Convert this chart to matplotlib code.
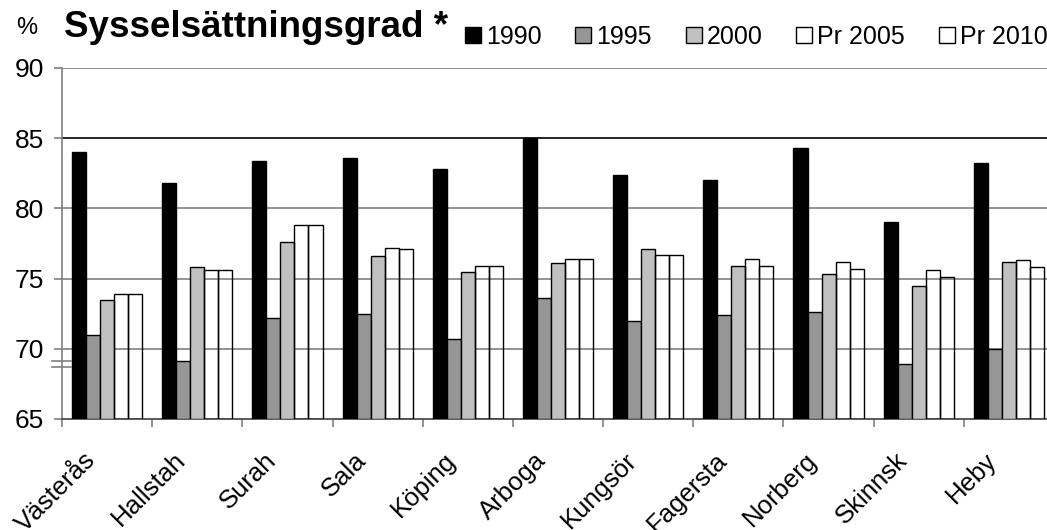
import matplotlib
matplotlib.use("Agg")
import matplotlib.pyplot as plt
import numpy as np
from matplotlib.transforms import ScaledTranslation, blended_transform_factory
from matplotlib.patches import Patch

plt.rcParams['font.family'] = ['Liberation Sans', 'DejaVu Sans']

municipalities = ["Västerås", "Hallstah", "Surah", "Sala", "Köping", "Arboga",
                  "Kungsör", "Fagersta", "Norberg", "Skinnsk", "Heby"]
series_names = ["1990", "1995", "2000", "Pr 2005", "Pr 2010"]
v1990 = [84.0, 81.8, 83.4, 83.6, 82.8, 85.0, 82.4, 82.0, 84.3, 79.0, 83.2]
v1995 = [71.0, 69.1, 72.2, 72.5, 70.7, 73.6, 72.0, 72.4, 72.6, 68.9, 70.0]
v2000 = [73.5, 75.8, 77.6, 76.6, 75.5, 76.1, 77.1, 75.9, 75.3, 74.5, 76.2]
v2005 = [73.9, 75.6, 78.8, 77.2, 75.9, 76.4, 76.7, 76.4, 76.2, 75.6, 76.3]
v2010 = [73.9, 75.6, 78.8, 77.1, 75.9, 76.4, 76.7, 75.9, 75.7, 75.1, 75.8]
yticks = [65, 70, 75, 80, 85, 90]

series = [v1990, v1995, v2000, v2005, v2010]
faces = ["black", "#969696", "#c0c0c0", "none", "none"]

W, H = 1047, 530
fig = plt.figure(figsize=(W / 100, H / 100), dpi=100)
ax = fig.add_axes([62 / W, 1 - 419 / H, (1054 - 62) / W, (419 - 68) / H])

base = 65
n = len(municipalities)
x = np.arange(n)
bw = 0.1555
for i, (vals, fc) in enumerate(zip(series, faces)):
    offs = (i - 2) * bw
    ax.bar(x + offs, np.array(vals) - base, bottom=base, width=bw,
           facecolor=fc, edgecolor="black", linewidth=1.0, zorder=3,
           label=series_names[i])

ax.set_xlim(-0.5, n - 0.5)
ax.set_ylim(65, 90)

# horizontal gridlines
for yv in yticks[1:]:
    ax.axhline(yv, color="black" if yv == 85 else "#808080", lw=1.2, zorder=1)

ax.set_yticks(yticks)
ax.set_yticklabels([str(v) for v in yticks], fontsize=19)
ax.tick_params(axis="y", direction="out", length=6, width=1.2, color="#808080", pad=7)

# category boundary ticks and centred labels
ax.set_xticks(np.arange(n + 1) - 0.5)
ax.set_xticklabels([])
ax.tick_params(axis="x", which="major", direction="out", length=6, width=1.2, color="#808080")
ax.set_xticks(x, minor=True)
ax.set_xticklabels(municipalities, minor=True, rotation=45, ha="right", va="top",
                   fontsize=18.5)
ax.tick_params(axis="x", which="minor", length=0, pad=21)
shift = ScaledTranslation(-7 / 100, 0, fig.dpi_scale_trans)
for lbl in ax.get_xticklabels(minor=True):
    lbl.set_transform(lbl.get_transform() + shift)

for s in ["top", "right"]:
    ax.spines[s].set_visible(False)
ax.spines["left"].set_color("#808080")
ax.spines["left"].set_linewidth(1.2)
ax.spines["bottom"].set_color("#404040")
ax.spines["bottom"].set_linewidth(1.2)

# axis break marks
brk = blended_transform_factory(ax.transAxes, ax.transData)
for yb in (69.15, 68.72):
    ax.plot([-0.0101, 0.0088], [yb, yb], color="#808080", lw=1.2,
            transform=brk, clip_on=False, zorder=5)

fig.text(16 / W, 1 - 34 / H, "%", fontsize=17, ha="left", va="baseline")
fig.text(64 / W, 1 - 37 / H, "Sysselsättningsgrad *", fontsize=26.5,
         fontweight="bold", ha="left", va="baseline")

handles = [Patch(facecolor=("white" if fc == "none" else fc), edgecolor="black",
                 linewidth=1.0) for fc in faces]
fig.legend(handles, series_names, loc="upper left",
           bbox_to_anchor=(465 / W, 1 - 25 / H), ncol=5, frameon=False,
           fontsize=18, handlelength=0.64, handleheight=0.64,
           handletextpad=0.2, columnspacing=1.35, borderpad=0, borderaxespad=0)

fig.savefig("out.png", dpi=100)
